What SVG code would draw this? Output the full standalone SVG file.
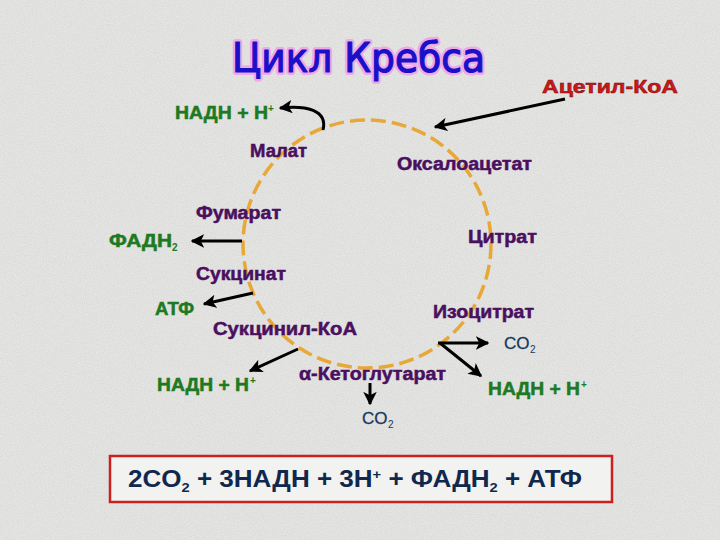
<svg xmlns="http://www.w3.org/2000/svg" width="720" height="540" viewBox="0 0 720 540">
<defs>
<filter id="tex" x="0" y="0" width="100%" height="100%">
<feTurbulence type="fractalNoise" baseFrequency="0.9" numOctaves="2" seed="3" result="n"/>
<feColorMatrix type="matrix" values="0 0 0 0 0.55  0 0 0 0 0.55  0 0 0 0 0.55  0 0 0 -1.2 0.9" result="m"/>
<feComposite in="m" in2="SourceGraphic" operator="in"/>
</filter>
<marker id="ah" viewBox="0 0 10 10" refX="9" refY="5" markerWidth="4.5" markerHeight="4.5" orient="auto-start-reverse" markerUnits="strokeWidth">
<path d="M0,0 L10,5 L0,10 L2.5,5 z" fill="#000"/>
</marker>
<style>
.lbl{font-family:"Liberation Sans",Arial,sans-serif;font-weight:bold;font-size:18px;fill:#4a0f5e;stroke:#4a0f5e;stroke-width:0.5}
.grn{font-family:"Liberation Sans",Arial,sans-serif;font-weight:bold;font-size:18px;fill:#1e7a22;stroke:#1e7a22;stroke-width:0.5}
.co2{font-family:"Liberation Sans",Arial,sans-serif;font-size:17px;fill:#163a5c;stroke:#163a5c;stroke-width:0.3}
.arr{fill:none;stroke:#000;stroke-width:3;marker-end:url(#ah)}
.sm{font-size:10px;stroke-width:0}
.sm9{font-size:10px;stroke-width:0}
.ttl{font-family:"DejaVu Sans",Verdana,sans-serif;font-size:40px}
</style>
</defs>
<rect width="720" height="540" fill="#e6e6e4"/>
<rect width="720" height="540" fill="#fff" filter="url(#tex)" opacity="0.5"/>

<g id="title">
<text class="ttl" x="232" y="72" fill="#f0a8e8" stroke="#f0a8e8" stroke-width="6" stroke-linejoin="round" textLength="253" lengthAdjust="spacingAndGlyphs">Цикл Кребса</text>
<text class="ttl" x="232" y="72" fill="#1a10c8" stroke="#1a10c8" stroke-width="1.2" stroke-linejoin="round" textLength="253" lengthAdjust="spacingAndGlyphs">Цикл Кребса</text>
</g>

<circle cx="367" cy="244" r="124" fill="none" stroke="#e8a838" stroke-width="3.5" stroke-dasharray="15 6"/>

<g id="connectors">
<path class="arr" d="M565,99 L435,127"/>
<path class="arr" d="M323,130 C328,110 306,105 280,108"/>
<path class="arr" d="M242,241 L192,241"/>
<path class="arr" d="M253,293 L204,304"/>
<path class="arr" d="M298,349 L250,371"/>
<path class="arr" d="M370,383 L370,404"/>
<path class="arr" d="M438,343 L488,343"/>
<path class="arr" d="M440,343 L481,376"/>
</g>

<g id="acetyl-coa"><text x="542" y="93" font-family="'Liberation Sans',Arial,sans-serif" font-weight="bold" font-size="19" fill="#d01818" stroke="#7a0a0a" stroke-width="0.5" textLength="136" lengthAdjust="spacingAndGlyphs">Ацетил-КоА</text></g>
<g id="nadh-top"><text class="grn" x="175" y="119" textLength="93" lengthAdjust="spacingAndGlyphs">НАДН + Н</text><text class="grn sm" x="268" y="112">+</text></g>
<g id="malate"><text class="lbl" x="250" y="157" textLength="57" lengthAdjust="spacingAndGlyphs">Малат</text></g>
<g id="oxaloacetate"><text class="lbl" x="397" y="170" textLength="135" lengthAdjust="spacingAndGlyphs">Оксалоацетат</text></g>
<g id="fumarate"><text class="lbl" x="196" y="219" textLength="85" lengthAdjust="spacingAndGlyphs">Фумарат</text></g>
<g id="fadh2"><text class="grn" x="109" y="247" textLength="63" lengthAdjust="spacingAndGlyphs">ФАДН</text><text class="grn sm" x="172" y="251">2</text></g>
<g id="citrate"><text class="lbl" x="468" y="243" textLength="69" lengthAdjust="spacingAndGlyphs">Цитрат</text></g>
<g id="succinate"><text class="lbl" x="196" y="280" textLength="90" lengthAdjust="spacingAndGlyphs">Сукцинат</text></g>
<g id="atp"><text class="grn" x="155" y="315" textLength="39" lengthAdjust="spacingAndGlyphs">АТФ</text></g>
<g id="isocitrate"><text class="lbl" x="433" y="318" textLength="101" lengthAdjust="spacingAndGlyphs">Изоцитрат</text></g>
<g id="succinyl-coa"><text class="lbl" x="213" y="335" textLength="144" lengthAdjust="spacingAndGlyphs">Сукцинил-КоА</text></g>
<g id="co2-right"><text class="co2" x="504" y="349">CO</text><text class="co2 sm9" x="530" y="353">2</text></g>
<g id="alpha-kg"><text class="lbl" x="299" y="380" textLength="147" lengthAdjust="spacingAndGlyphs">α-Кетоглутарат</text></g>
<g id="nadh-left"><text class="grn" x="157" y="391" textLength="92" lengthAdjust="spacingAndGlyphs">НАДН + Н</text><text class="grn sm" x="250" y="384">+</text></g>
<g id="nadh-right"><text class="grn" x="488" y="395" textLength="92" lengthAdjust="spacingAndGlyphs">НАДН + Н</text><text class="grn sm" x="581" y="388">+</text></g>
<g id="co2-bottom"><text class="co2" x="362" y="424">CO</text><text class="co2 sm9" x="388" y="428">2</text></g>

<g id="summary">
<rect x="110" y="456" width="502" height="46" fill="#f2f2f0" stroke="#cc2020" stroke-width="2.5"/>
<text x="128" y="487" font-family="'Liberation Sans',Arial,sans-serif" font-weight="bold" font-size="23" fill="#10284e" textLength="454" lengthAdjust="spacingAndGlyphs">2CO<tspan font-size="13" dy="5">2</tspan><tspan dy="-5"> + 3НАДН + 3Н</tspan><tspan font-size="13" dy="-8">+</tspan><tspan dy="8"> + ФАДН</tspan><tspan font-size="13" dy="5">2</tspan><tspan dy="-5"> + АТФ</tspan></text>
</g>
</svg>
